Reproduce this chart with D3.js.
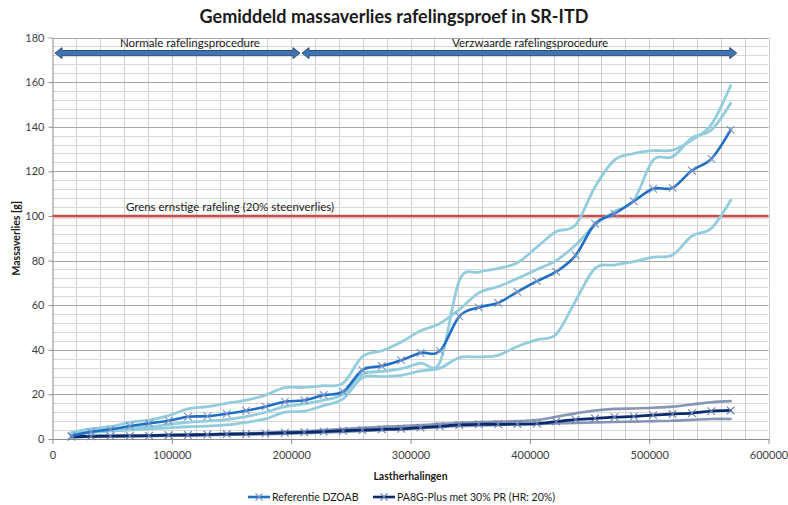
<!DOCTYPE html>
<html>
<head>
<meta charset="utf-8">
<script src="https://cdn.jsdelivr.net/npm/d3@7"></script>
<style>
  html, body { margin: 0; padding: 0; background: #ffffff; }
  svg { display: block; font-family: Lato, "Open Sans", sans-serif; }
</style>
</head>
<body>
<svg id="chart" width="788" height="505"></svg>
<script>
// ---------------- DATA ----------------
const titleText = "Gemiddeld massaverlies rafelingsproef in SR-ITD";
const xTitle = "Lastherhalingen";
const yTitle = "Massaverlies [g]";
const xTickValues = [0, 100000, 200000, 300000, 400000, 500000, 600000];
const yTickValues = [0, 20, 40, 60, 80, 100, 120, 140, 160, 180];

const loadRepetitions = [16000, 32300, 48500, 64800, 81000, 97300, 113500, 129800, 146000, 162200,
  178500, 194700, 211000, 227200, 243500, 259700, 276000, 292200, 308400, 324700,
  340900, 357200, 373400, 389600, 405900, 422100, 438400, 454600, 470900, 487100,
  503300, 519600, 535800, 552100, 568300];

// Referentie DZOAB (average, with markers)
const refMean = [1.5, 3.2, 4.3, 5.8, 7.0, 8.2, 10.0, 10.2, 11.3, 12.7,
  14.5, 16.7, 17.4, 19.7, 21.2, 30.9, 32.7, 35.3, 38.6, 39.5,
  55.0, 59.0, 61.0, 66.0, 70.8, 75.0, 82.3, 96.5, 101.0, 106.6,
  112.2, 112.6, 120.4, 125.6, 138.6];
// Referentie DZOAB individual specimens
const refSampleP = [3.0, 4.5, 5.5, 7.5, 8.5, 10.5, 13.5, 14.5, 16.0, 17.4,
  19.7, 23.0, 23.1, 23.9, 25.0, 37.0, 39.5, 43.5, 48.5, 51.8,
  58.0, 65.5, 68.3, 72.0, 76.0, 80.0, 87.0, 96.0, 102.0, 107.0,
  125.0, 126.5, 135.0, 138.5, 150.5];
const refSampleQ = [2.5, 3.5, 4.0, 5.0, 5.5, 6.5, 7.5, 8.0, 8.7, 10.0,
  12.0, 14.5, 15.7, 17.4, 20.0, 29.0, 30.3, 31.5, 34.0, 34.5,
  71.0, 74.8, 76.5, 79.0, 86.0, 93.0, 96.0, 113.0, 125.0, 128.0,
  129.3, 129.5, 134.0, 141.0, 158.5];
const refSampleR = [2.0, 3.0, 3.5, 4.0, 4.5, 5.0, 5.5, 5.8, 6.3, 7.5,
  9.0, 12.0, 12.5, 15.0, 18.0, 27.5, 28.0, 28.5, 30.5, 31.8,
  36.5, 36.8, 37.5, 41.5, 44.5, 47.0, 62.0, 76.5, 78.0, 79.5,
  81.5, 82.5, 91.0, 94.5, 107.0];

// PA8G-Plus met 30% PR (HR: 20%) (average, with markers)
const pa8Mean = [1.0, 1.2, 1.3, 1.4, 1.5, 1.7, 1.8, 2.0, 2.2, 2.3,
  2.5, 2.8, 3.0, 3.3, 3.7, 4.0, 4.3, 4.6, 5.1, 5.7,
  6.3, 6.6, 6.6, 6.7, 6.9, 7.8, 8.7, 9.2, 9.8, 10.1,
  10.7, 11.2, 11.6, 12.5, 12.8];
// PA8G-Plus individual specimens
const pa8Upper = [1.2, 1.4, 1.5, 1.6, 1.7, 1.9, 2.0, 2.1, 2.3, 2.5,
  2.8, 3.2, 3.5, 4.0, 4.5, 5.0, 5.5, 5.8, 6.2, 6.8,
  7.2, 7.6, 7.8, 8.0, 8.5, 10.0, 11.5, 12.8, 13.5, 13.7,
  14.0, 14.5, 15.5, 16.5, 17.0];
const pa8Lower = [0.8, 1.0, 1.1, 1.2, 1.3, 1.5, 1.6, 1.7, 1.9, 2.0,
  2.2, 2.4, 2.6, 2.9, 3.2, 3.6, 4.0, 4.3, 4.8, 5.3,
  5.8, 6.1, 6.3, 6.5, 6.7, 7.0, 7.2, 7.4, 7.6, 7.8,
  8.0, 8.2, 8.6, 9.0, 9.0];

const limitValue = 100;
const limitLabel = "Grens ernstige rafeling (20% steenverlies)";

const phaseLabels = ["Normale rafelingsprocedure", "Verzwaarde rafelingsprocedure"];
const phaseStarts = [2100, 209100];
const phaseEnds = [207400, 573400];
const phaseLabelAt = [115200, 400200];
const phaseLevel = 173;

const legendLabels = ["Referentie DZOAB", "PA8G-Plus met 30% PR (HR: 20%)"];

// ---------------- LAYOUT ----------------
const svg = d3.select("#chart");
const M = { left: 52.5, right: 768.5, top: 37.5, bottom: 439 };

const x = d3.scaleLinear().domain([0, 600000]).range([M.left, M.right]);
const y = d3.scaleLinear().domain([0, 180]).range([M.bottom, M.top]);

// gridlines
const g = svg.append("g");
const minorY = d3.range(0, 181, 4);
g.selectAll("line.hminor").data(minorY.filter(v => v % 20 !== 0)).join("line")
  .attr("x1", M.left).attr("x2", M.right)
  .attr("y1", d => Math.round(y(d)) + 0.5).attr("y2", d => Math.round(y(d)) + 0.5)
  .attr("stroke", "#d9d9d9").attr("stroke-width", 1);
const vGrid = d3.range(20000, 600001, 20000);
g.selectAll("line.v").data(vGrid).join("line")
  .attr("y1", M.top).attr("y2", M.bottom)
  .attr("x1", d => Math.round(x(d)) + 0.5).attr("x2", d => Math.round(x(d)) + 0.5)
  .attr("stroke", "#cfcfcf").attr("stroke-width", 1);
g.selectAll("line.hmajor").data(yTickValues.filter(v => v > 0)).join("line")
  .attr("x1", M.left).attr("x2", M.right)
  .attr("y1", d => Math.round(y(d)) + 0.5).attr("y2", d => Math.round(y(d)) + 0.5)
  .attr("stroke", "#a6a6a6").attr("stroke-width", 1);

// axes
const xAxis = d3.axisBottom(x).tickValues(xTickValues).tickFormat(d3.format("d")).tickSize(5).tickSizeOuter(0);
const yAxis = d3.axisLeft(y).tickValues(yTickValues).tickSize(4).tickSizeOuter(0);
const gx = svg.append("g").attr("transform", `translate(0,${M.bottom})`).call(xAxis);
const gy = svg.append("g").attr("transform", `translate(${M.left},0)`).call(yAxis);
[gx, gy].forEach(a => {
  a.select(".domain").attr("stroke", "#8c8c8c");
  a.selectAll(".tick line").attr("stroke", "#8c8c8c");
  a.selectAll(".tick text").attr("fill", "#404040").attr("font-size", 11)
    .attr("font-family", "Lato, 'Open Sans', sans-serif");
});
gx.selectAll(".tick text").attr("dy", "1.05em");
gy.selectAll(".tick text").attr("x", -8);

// title
svg.append("text").attr("x", 394).attr("y", 23).attr("text-anchor", "middle")
  .attr("font-weight", "bold").attr("font-size", 18).attr("fill", "#1a1a1a").text(titleText);
// axis titles
svg.append("text").attr("x", (M.left + M.right) / 2).attr("y", 480).attr("text-anchor", "middle")
  .attr("font-weight", "bold").attr("font-size", 10.5).attr("fill", "#1a1a1a").text(xTitle);
svg.append("text").attr("transform", `translate(20,${(M.top + M.bottom) / 2}) rotate(-90)`)
  .attr("text-anchor", "middle").attr("font-weight", "bold").attr("font-size", 10.5)
  .attr("fill", "#1a1a1a").text(yTitle);

// limit line
svg.append("line").attr("x1", M.left).attr("x2", M.right)
  .attr("y1", y(limitValue) + 1).attr("y2", y(limitValue) + 1)
  .attr("stroke", "#e4b8b6").attr("stroke-width", 3);
svg.append("line").attr("x1", M.left).attr("x2", M.right)
  .attr("y1", y(limitValue)).attr("y2", y(limitValue))
  .attr("stroke", "#c0504d").attr("stroke-width", 2.2);
svg.append("text").attr("x", 230).attr("y", 211).attr("text-anchor", "middle")
  .attr("font-size", 11.5).attr("fill", "#1a1a1a").text(limitLabel);

// phase arrows
function arrowPath(x0, x1, yc) {
  const hb = 2.6, hh = 5.5, hl = 7;
  return `M${x0},${yc} L${x0 + hl},${yc - hh} L${x0 + hl},${yc - hb} L${x1 - hl},${yc - hb} L${x1 - hl},${yc - hh} L${x1},${yc} L${x1 - hl},${yc + hh} L${x1 - hl},${yc + hb} L${x0 + hl},${yc + hb} L${x0 + hl},${yc + hh} Z`;
}
phaseLabels.forEach((lab, i) => {
  const x0 = x(phaseStarts[i]), x1 = x(phaseEnds[i]);
  svg.append("path").attr("d", arrowPath(x0, x1, y(phaseLevel)))
    .attr("fill", "#4272b0").attr("stroke", "#2c5180").attr("stroke-width", 1);
  svg.append("text").attr("x", x(phaseLabelAt[i])).attr("y", y(phaseLevel) - 6)
    .attr("text-anchor", "middle").attr("font-size", 11.5).attr("fill", "#1a1a1a").text(lab);
});

// series
const line = d3.line().x(d => x(d[0])).y(d => y(d[1])).curve(d3.curveCatmullRom.alpha(0));
const pts = arr => loadRepetitions.map((v, i) => [v, arr[i]]);

const plot = svg.append("g");
function drawLine(arr, color, width, opacity) {
  plot.append("path").datum(pts(arr)).attr("d", line)
    .attr("fill", "none").attr("stroke", color).attr("stroke-width", width)
    .attr("stroke-opacity", opacity).attr("stroke-linejoin", "round").attr("stroke-linecap", "round");
}
function drawMarkers(arr, color) {
  const s = 3.8;
  plot.append("g").selectAll("path").data(pts(arr)).join("path")
    .attr("d", d => {
      const cx = x(d[0]), cy = y(d[1]);
      return `M${cx - s},${cy - s}L${cx + s},${cy + s}M${cx - s},${cy + s}L${cx + s},${cy - s}`;
    })
    .attr("stroke", color).attr("stroke-width", 1.1).attr("fill", "none");
}

// PA8G specimens + mean
drawLine(pa8Upper, "#7384aa", 2.6, 0.85);
drawLine(pa8Lower, "#7384aa", 2.6, 0.85);
drawLine(pa8Mean, "#0b2a6b", 2.8, 1);
drawMarkers(pa8Mean, "#6a80b3");

// Reference specimens + mean
drawLine(refSampleR, "#93cddd", 2.8, 1);
drawLine(refSampleQ, "#93cddd", 2.8, 1);
drawLine(refSampleP, "#93cddd", 2.8, 1);
drawLine(refMean, "#1f6fc4", 2.6, 1);
drawMarkers(refMean, "#7b93c4");

// legend
const legend = svg.append("g");
const legendX = [248, 373];
const legendColors = ["#1f6fc4", "#0b2a6b"];
const legendY = 497;
legendLabels.forEach((lab, i) => {
  const lx = legendX[i];
  legend.append("line").attr("x1", lx).attr("x2", lx + 22).attr("y1", legendY).attr("y2", legendY)
    .attr("stroke", legendColors[i]).attr("stroke-width", 2.6);
  const cx = lx + 11, s = 3.5;
  legend.append("path").attr("d", `M${cx - s},${legendY - s}L${cx + s},${legendY + s}M${cx - s},${legendY + s}L${cx + s},${legendY - s}`)
    .attr("stroke", i === 0 ? "#7b93c4" : "#6a80b3").attr("stroke-width", 1.1);
  legend.append("text").attr("x", lx + 24).attr("y", legendY + 4)
    .attr("font-size", 10.5).attr("fill", "#1a1a1a").text(lab);
});
</script>
</body>
</html>
